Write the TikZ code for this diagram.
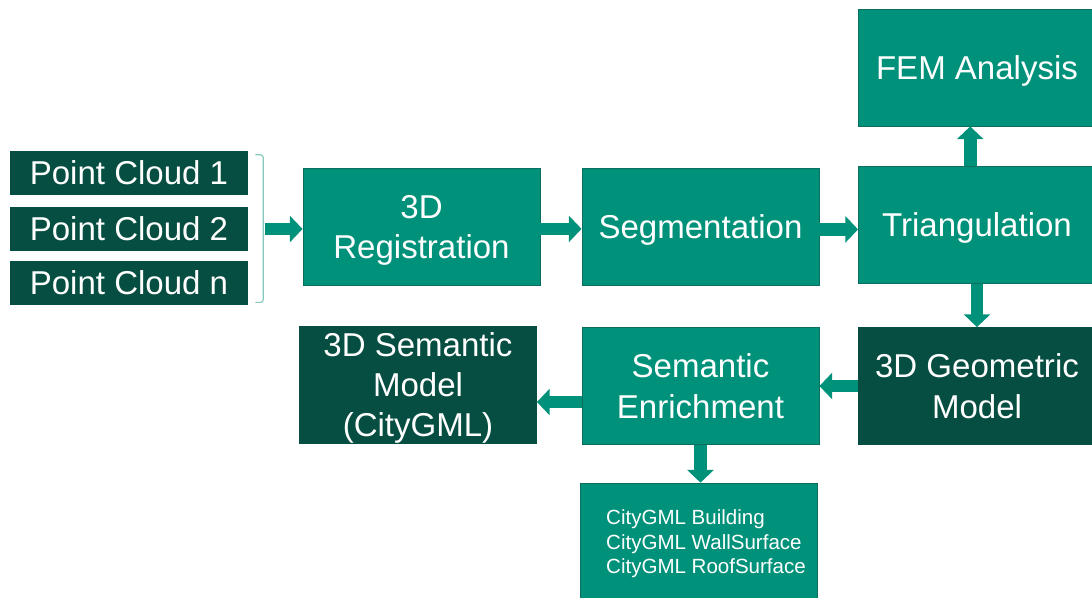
\documentclass[tikz,border=0pt]{standalone}
\usepackage{fontspec}
\setmainfont{Liberation Sans}
\usetikzlibrary{arrows.meta}
\definecolor{teal}{HTML}{00917A}
\definecolor{deep}{HTML}{074E42}
\definecolor{rim}{HTML}{0B6E5E}
\definecolor{soft}{HTML}{84C9BA}

\begin{document}
\begin{tikzpicture}[
  font=\fontsize{23.5}{28.5}\selectfont,
  text=white,
  stage/.style={draw=rim,fill=teal,line width=0.6pt,
    minimum width=5.925cm,minimum height=2.925cm,
    inner sep=4pt,text depth=0pt,align=center},
  model/.style={stage,fill=deep,draw=deep},
  cloud/.style={fill=deep,minimum width=5.95cm,minimum height=1.1cm,
    inner sep=2pt},
  brace/.style={draw=soft,line width=0.8pt,rounded corners=2pt},
  flow/.style={-{Triangle[length=0.32cm,width=0.65cm]},draw=teal,
    line width=0.32cm}
]
\useasboundingbox (0,0) rectangle (27.3,-14.95);

% point clouds
\node[cloud] (pc1) at (3.225,-4.325) {Point Cloud 1};
\node[cloud] (pc2) at (3.225,-5.7125) {Point Cloud 2};
\node[cloud] (pcn) at (3.225,-7.0625) {Point Cloud n};
\draw[brace] ([xshift=0.175cm,yshift=-0.1cm]pc1.north east)
  -| ([xshift=0.375cm,yshift=0.06cm]pcn.south east)
  -- ([xshift=0.175cm,yshift=0.06cm]pcn.south east);
\coordinate (brace) at (6.625,-5.725);

% processing chain
\node[stage] (reg) at (10.5375,-5.6625) {3D\\Registration};
\node[stage] (seg) at (17.5125,-5.675) {Segmentation};
\node[stage] (tri) at (24.425,-5.625) {Triangulation};
\node[stage] (fem) at (24.425,-1.6875) {FEM Analysis};
\node[model] (geo) at (24.425,-9.65) {3D Geometric\\Model};
\node[stage] (enr) at (17.5125,-9.65) {Semantic\\Enrichment};
\node[model] (sem) at (10.45,-9.6125) {3D Semantic\\Model\\(CityGML)};
\node[stage,align=left,font=\fontsize{14.6}{17.4}\selectfont]
  (list) at (17.475,-13.54)
  {\hspace*{0.35cm}CityGML Building\\
   \hspace*{0.35cm}CityGML WallSurface\\
   \hspace*{0.35cm}CityGML RoofSurface};

\draw[flow] (brace) -- (brace -| reg.west);
\draw[flow] ([yshift=-0.06cm]reg.east) -- ([yshift=-0.06cm]reg.east -| seg.west);
\draw[flow] ([yshift=-0.06cm]seg.east) -- ([yshift=-0.06cm]seg.east -| tri.west);
\draw[flow] ([xshift=-0.17cm]tri.north) -- ([xshift=-0.17cm]tri.north |- fem.south);
\draw[flow] (tri.south) -- (tri.south |- geo.north);
\draw[flow] (geo.west) -- (enr.east);
\draw[flow] ([yshift=-0.4cm]enr.west) -- ([yshift=-0.4cm]enr.west -| sem.east);
\draw[flow] (enr.south) -- (enr.south |- list.north);
\end{tikzpicture}
\end{document}
